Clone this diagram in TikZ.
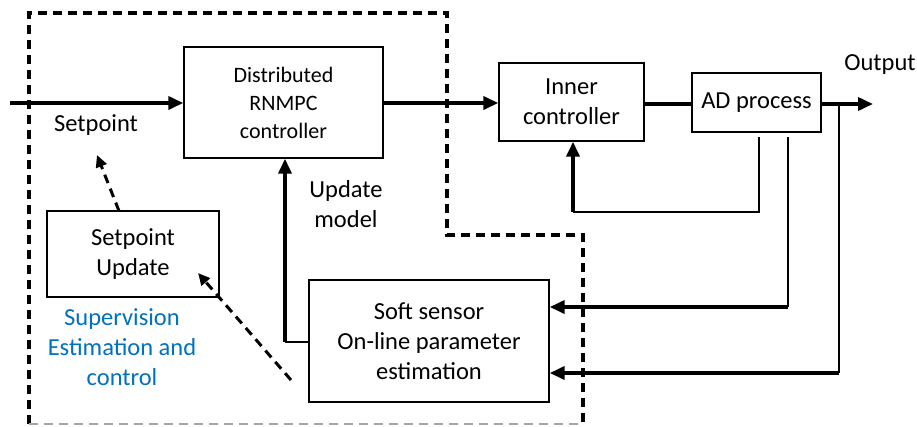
\documentclass[tikz,border=0pt]{standalone}
\usepackage{fontspec}
\setmainfont{Carlito}
\usetikzlibrary{arrows.meta}
\definecolor{supblue}{RGB}{0,112,192}
\begin{document}
\begin{tikzpicture}[x=1pt,y=-1pt,
  blk/.style={draw,line width=1.4pt,align=center,inner sep=0pt,font=\fontsize{24.5}{30}\selectfont},
  lbl/.style={align=center,inner sep=0pt,font=\fontsize{24.5}{30}\selectfont},
  thk/.style={line width=3.6pt},
  thn/.style={line width=1.6pt},
  arr/.style={-{Triangle[length=15pt,width=13pt]}},
  darr/.style={line width=3pt,dash pattern=on 9pt off 6pt,-{Triangle[length=12pt,width=11pt]}},
  bnd/.style={line width=3.4pt,dash pattern=on 9pt off 6pt}]
\useasboundingbox (0,0) rectangle (917,426);
% boundary
\draw[bnd] (29,424) -- (29,13) -- (447,13) -- (447,235) -- (583,235) -- (583,424);
\draw[line width=1.3pt,gray!70,dash pattern=on 9pt off 6pt] (29,424) -- (583,424);
% blocks
\node[blk,minimum width=199pt,minimum height=111pt,font=\fontsize{22}{28}\selectfont] (dist) at (283.5,102.5) {Distributed\\RNMPC\\controller};
\node[blk,minimum width=145pt,minimum height=78pt] (inner) at (571.5,102) {Inner\\controller};
\node[blk,minimum width=129pt,minimum height=59pt] (ad) at (756.5,102.5) {AD process};
\node[blk,minimum width=172pt,minimum height=86pt] (spu) at (133,254) {Setpoint\\Update};
\node[blk,minimum width=240pt,minimum height=122pt] (soft) at (429,341) {Soft sensor\\On-line parameter\\estimation};
% labels
\node[lbl] (sp) at (96,125) {Setpoint};
\node[lbl] (um) at (346,204) {Update\\model};
\node[lbl,text=supblue] (sup) at (122,347) {Supervision\\Estimation and\\control};
\node[lbl] (outl) at (880,65) {Output};
% coordinates
\coordinate (in) at (10,103);
\coordinate (out) at (873,104);
\coordinate (br) at (839,104);
\coordinate (brd) at (839,373);
\coordinate (a1) at (788,137);
\coordinate (a1d) at (788,307);
\coordinate (f1) at (759,137);
\coordinate (f1d) at (759,212);
\coordinate (f1l) at (573,212);
\coordinate (sl) at (285,342);
\coordinate (spt) at (97,155);
\coordinate (spb) at (119,211);
\coordinate (ds) at (291,380);
\coordinate (dt) at (198,273);
% connectors
\draw[thk,arr] (in) -- (dist.west |- in);
\draw[thk,arr] (dist.east |- in) -- (inner.west |- in);
\draw[thk] (inner.east |- br) -- (ad.west |- br);
\draw[thk,arr] (ad.east |- br) -- (out);
\draw[thn] (br) -- (brd);
\draw[thk,arr] (brd) -- (soft.east |- brd);
\draw[thn] (a1) -- (a1d);
\draw[thk,arr] (a1d) -- (soft.east |- a1d);
\draw[thn] (f1) -- (f1d) -- (f1l);
\draw[thk,arr] (f1l) -- (inner.south -| f1l);
\draw[thn] (soft.west |- sl) -- (sl);
\draw[thk,arr] (sl) -- (dist.south -| sl);
\draw[darr] (spb) -- (spt);
\draw[darr] (ds) -- (dt);
\end{tikzpicture}
\end{document}
